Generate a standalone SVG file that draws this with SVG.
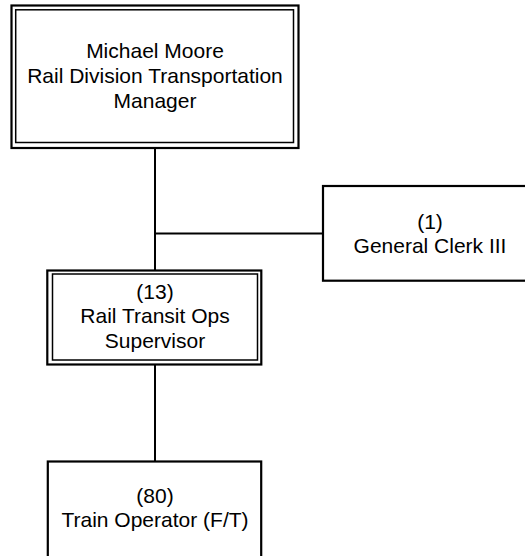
<svg xmlns="http://www.w3.org/2000/svg" width="525" height="556" viewBox="0 0 525 556">
<style>
.box{fill:#fff;stroke:#000;stroke-width:2.2}
.inner{fill:none;stroke:#000;stroke-width:1.5}
.line{fill:none;stroke:#000;stroke-width:2}
text{font-family:"Liberation Sans",Arial,sans-serif;font-size:21px;fill:#000;text-anchor:middle}
</style>
<rect width="525" height="556" fill="#fff"/>
<g id="connectors">
<line class="line" x1="155" y1="148" x2="155" y2="270"/>
<line class="line" x1="155" y1="233.5" x2="323" y2="233.5"/>
<line class="line" x1="155" y1="365" x2="155" y2="462"/>
</g>
<g id="manager">
<rect class="box" x="11.5" y="5.5" width="287" height="142.5"/>
<rect class="inner" x="15.7" y="9.8" width="277.8" height="132.7"/>
<text x="155" y="57.5">Michael Moore</text>
<text x="155" y="83">Rail Division Transportation</text>
<text x="155" y="108">Manager</text>
</g>
<g id="clerk">
<rect class="box" x="323" y="186" width="215" height="94.7"/>
<text x="430" y="229">(1)</text>
<text x="430" y="253">General Clerk III</text>
</g>
<g id="supervisor">
<rect class="box" x="47.3" y="270.5" width="214" height="94"/>
<rect class="inner" x="52.5" y="274" width="205" height="86"/>
<text x="155" y="298.5">(13)</text>
<text x="155" y="323">Rail Transit Ops</text>
<text x="155" y="348">Supervisor</text>
</g>
<g id="operator">
<rect class="box" x="47.8" y="461.5" width="213.4" height="110"/>
<text x="155" y="503">(80)</text>
<text x="155" y="527">Train Operator (F/T)</text>
</g>
</svg>
